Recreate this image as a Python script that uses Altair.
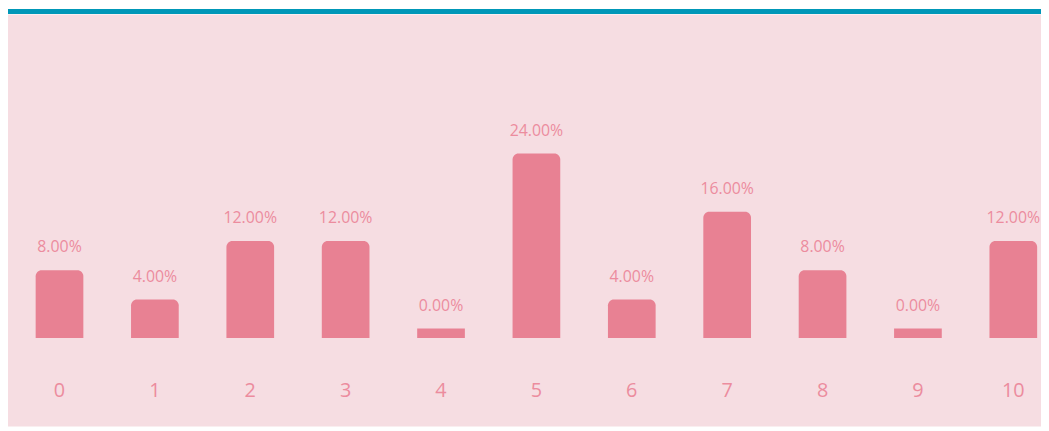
import altair as alt
import pandas as pd

categories = ["0", "1", "2", "3", "4", "5", "6", "7", "8", "9", "10"]
percent_values = [8, 4, 12, 12, 0, 24, 4, 16, 8, 0, 12]

df = pd.DataFrame({"cat": categories, "v": percent_values})

BAR = "#E88193"
BG = "#F6DDE2"
LABEL = "#EC8C9E"
TEAL = "#0097B8"
FONT = "Open Sans"

x_enc = alt.X(
    "cat:N",
    sort=categories,
    scale=alt.Scale(paddingInner=0.5, paddingOuter=0.29, range=[0, 1065]),
    axis=alt.Axis(
        title=None, labelAngle=0, domain=False, ticks=False, tickSize=0,
        grid=False, labelPadding=0, offset=-36, labelBaseline="middle",
        labelFont=FONT, labelFontSize=20, labelColor=LABEL, labelFontWeight=400,
    ),
)
y_scale = alt.Scale(domain=[-1.3, 24], range=[326, 140], zero=False, nice=False)
y_enc = alt.Y("v:Q", scale=y_scale, axis=None)

base = alt.Chart(df).encode(x=x_enc)

bars_round = base.transform_filter("datum.v > 0").mark_bar(
    color=BAR, cornerRadiusTopLeft=6, cornerRadiusTopRight=6
).encode(y=y_enc, y2=alt.Y2(datum=-1.3))

bars_flat = base.transform_filter("datum.v <= 0").mark_bar(color=BAR).encode(
    y=y_enc, y2=alt.Y2(datum=-1.3)
)

labels = base.transform_calculate(
    lab="format(datum.v, '.2f') + '%'"
).mark_text(
    font=FONT, fontSize=16, color=LABEL, baseline="bottom", dy=-15
).encode(y=y_enc, text="lab:N")

teal = alt.Chart(df).mark_rule(color=TEAL, strokeWidth=4).encode(
    x=alt.value(0), x2=alt.value(1041), y=alt.value(-3)
)

chart = alt.layer(bars_round, bars_flat, labels, teal).properties(
    width=1041, height=415,
    autosize=alt.AutoSizeParams(type="none"),
    padding={"top": 5, "left": 0, "right": 0, "bottom": 0},
    background="#FFFFFF",
).configure_view(fill=BG, stroke=None)

chart.save("out.html", embed_options={"renderer": "svg", "actions": False})
